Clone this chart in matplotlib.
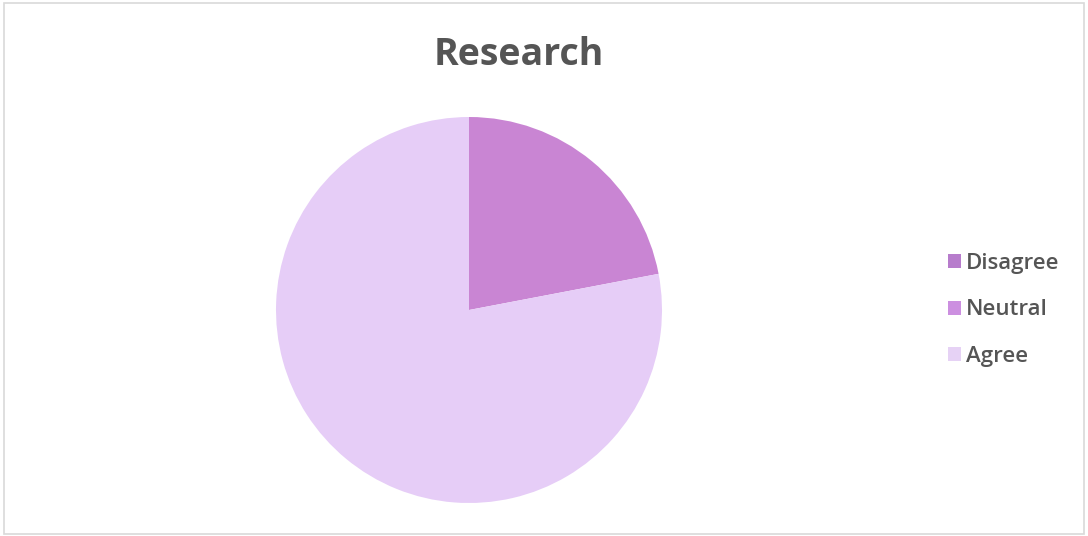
import matplotlib.pyplot as plt
from matplotlib.patches import Patch, Rectangle

labels = ["Disagree", "Neutral", "Agree"]
values = [22, 0, 78]
colors = ["#c985d3", "#d49ae6", "#e6cdf7"]
legend_colors = ["#b77ccc", "#cc8fe0", "#e6d2f5"]

fig = plt.figure(figsize=(10.88, 5.36), dpi=100)
fig.patches.append(Rectangle((0.004, 0.004), 0.992, 0.99, transform=fig.transFigure,
                             fill=False, edgecolor="#d9d9d9", linewidth=1.2))

r = 193
ax = fig.add_axes([(469 - r) / 1088, (226 - r) / 536, 2 * r / 1088, 2 * r / 536])
ax.pie(values, colors=colors, startangle=90, counterclock=False,
       wedgeprops=dict(linewidth=0))
ax.set_xlim(-1, 1)
ax.set_ylim(-1, 1)
ax.set_aspect("equal")

fig.text(519 / 1088, 1 - 55 / 536, "Research", ha="center", va="center",
         fontsize=27, fontweight="bold", color="#555555", family="Open Sans")

handles = [Patch(facecolor=c, edgecolor="none") for c in legend_colors]
leg = fig.legend(handles, labels, loc="center left", bbox_to_anchor=(928 / 1088, 1 - 310 / 536),
                 frameon=False, handlelength=0.6, handleheight=0.6,
                 handletextpad=0.2, labelspacing=1.15,
                 prop={"family": "Open Sans", "size": 16, "weight": "semibold"})
for t in leg.get_texts():
    t.set_color("#555555")

fig.savefig("out.png", dpi=100, facecolor="white")
